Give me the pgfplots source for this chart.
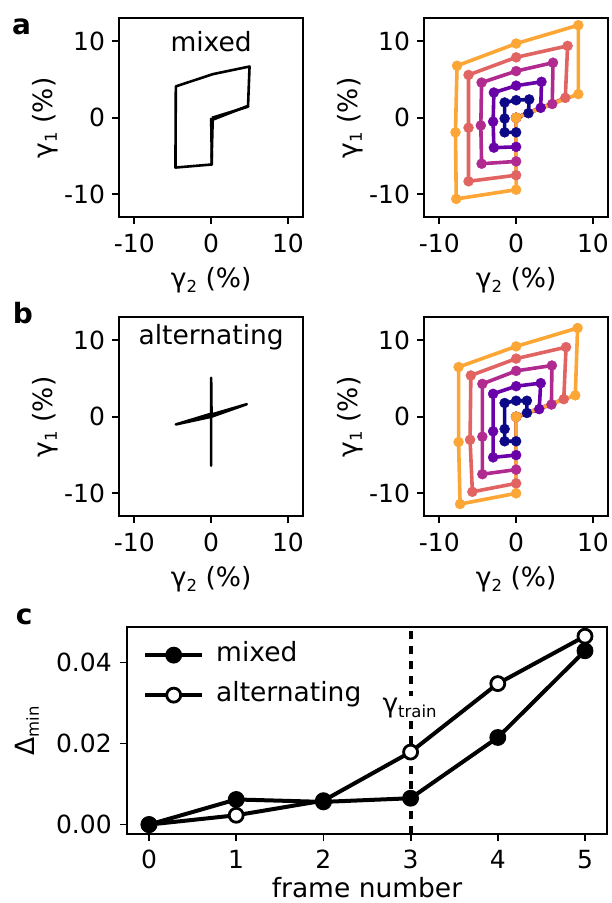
\documentclass[border=0pt]{standalone}
\usepackage{fontspec}
\setmainfont{DejaVu Sans}
\usepackage{pgfplots}
\usepackage{pgfplotstable}
\pgfplotsset{compat=1.18}
\definecolor{p0}{HTML}{0D0887}
\definecolor{p1}{HTML}{6A00A8}
\definecolor{p2}{HTML}{B12A90}
\definecolor{p3}{HTML}{E16462}
\definecolor{p4}{HTML}{FCA636}
\newcommand{\sub}[1]{\raisebox{-0.18em}{\fontsize{16.5}{16.5}\selectfont #1}}
\newcommand{\gl}{\fontsize{26.5}{31}\selectfont}

\pgfplotstableread{
xn yn xp yp xm ym xs ys xo yo
0 0 0 0 0 0 0 0 0 0
0 -1.9 0 -3.8 0 -5.7 0 -7.5 0 -9.4
-1.5 -1.9 -2.9 -3.9 -4.5 -6.0 -6.2 -8.3 -7.8 -10.6
-1.5 -0.1 -3.0 -0.5 -4.6 -1.0 -6.2 -1.3 -7.9 -1.9
-1.5 2.0 -2.9 3.3 -4.5 4.6 -6.2 5.6 -7.7 6.8
0 2.3 0 4.2 0 6.1 0 7.9 0 9.7
1.7 2.4 3.3 4.7 4.8 7.2 6.7 9.4 8.1 12.1
1.6 0.6 3.2 1.3 4.7 1.8 6.4 2.6 8.1 3.1
0 0 0 0 0 0 0 0 0 0
}\tabA

\pgfplotstableread{
xn yn xp yp xm ym xs ys xo yo
0 0 0 0 0 0 0 0 0 0
0 -3.2 0 -5.0 0 -6.9 0 -8.7 0 -10.0
-1.5 -3.2 -3.0 -5.3 -4.4 -7.5 -5.7 -9.8 -7.3 -11.4
-1.5 -1.6 -3.0 -1.9 -4.4 -2.6 -6.0 -3.0 -7.5 -3.3
-1.5 1.8 -3.0 3.0 -4.4 4.3 -5.9 5.4 -7.5 6.5
0 2.1 0 4.0 0 6.0 0 7.6 0 9.2
1.4 2.1 3.2 4.4 4.65 6.7 6.5 9.1 8.0 11.6
1.4 0.5 3.0 1.0 4.6 1.6 6.2 2.3 7.7 2.8
0 0 0 0 0 0 0 0 0 0
}\tabB

\pgfplotsset{
  base/.style={
    scale only axis, anchor=south west,
    tick align=outside, xtick pos=left, ytick pos=left,
    major tick length=7pt,
    every tick/.append style={black, line width=1.8pt},
    axis line style={line width=1.8pt},
    tick label style={font=\fontsize{25}{29}\selectfont},
    label style={font=\gl},
    scaled ticks=false,
  },
  loop/.style={base, width=184.3pt, height=199pt,
    xmin=-12, xmax=12, ymin=-13, ymax=13,
    xtick={-10,0,10}, xticklabels={-10,0,10},
    ytick={-10,0,10}, yticklabels={-10,0,10},
    xticklabel style={yshift=-6pt}, yticklabel style={xshift=-3.5pt},
    xlabel={γ\sub{2} (\%)}, ylabel={γ\sub{1} (\%)},
    xlabel style={at={([yshift=-70pt]axis description cs:0.5,0)}, anchor=base},
    ylabel style={at={([xshift=-67pt]axis description cs:0,0.5)}, anchor=base},
  },
  blk/.style={black, line width=2.6pt, line join=round, no markers},
  ln/.style={line width=3.6pt, line join=round, no markers, color=#1},
  mk/.style={only marks, mark=*, mark size=5pt, color=#1, mark options={draw=#1, fill=#1}},
}

\begin{document}
\begin{tikzpicture}
\path[use as bounding box] (0,0) rectangle (611pt,903pt);

% ---------- a left
\begin{axis}[loop, at={(119pt,685.7pt)}]
\addplot[blk] coordinates {(0,0) (0.1,-6.1) (-4.65,-6.5) (-4.6,4.1) (0.2,5.7) (5.0,6.7) (4.8,1.45) (0.1,0)};
\addplot[blk] coordinates {(4.9,1.6) (0.2,-0.25) (0.05,-6.0)};
\node[anchor=base, font=\gl] at (axis cs:0,8.67) {mixed};
\end{axis}

% ---------- a right
\begin{axis}[loop, at={(424pt,685.7pt)}]
\addplot[ln=p0] table[x=xn,y=yn] {\tabA};
\addplot[ln=p1] table[x=xp,y=yp] {\tabA};
\addplot[ln=p2] table[x=xm,y=ym] {\tabA};
\addplot[ln=p3] table[x=xs,y=ys] {\tabA};
\addplot[ln=p4] table[x=xo,y=yo] {\tabA};
\addplot[mk=p0] table[x=xn,y=yn] {\tabA};
\addplot[mk=p1] table[x=xp,y=yp] {\tabA};
\addplot[mk=p2] table[x=xm,y=ym] {\tabA};
\addplot[mk=p3] table[x=xs,y=ys] {\tabA};
\addplot[mk=p4] table[x=xo,y=yo] {\tabA};
\end{axis}

% ---------- b left
\begin{axis}[loop, at={(119pt,386.7pt)}]
\addplot[blk] coordinates {(0,0) (0,5.1) (0.05,0.3) (4.65,1.65) (0,0) (-4.6,-1.0) (0,0.4) (0,-6.4) (0,0)};
\node[anchor=base, font=\gl] at (axis cs:0,9.4) {alternating};
\end{axis}

% ---------- b right
\begin{axis}[loop, at={(424pt,386.7pt)}]
\addplot[ln=p0] table[x=xn,y=yn] {\tabB};
\addplot[ln=p1] table[x=xp,y=yp] {\tabB};
\addplot[ln=p2] table[x=xm,y=ym] {\tabB};
\addplot[ln=p3] table[x=xs,y=ys] {\tabB};
\addplot[ln=p4] table[x=xo,y=yo] {\tabB};
\addplot[mk=p0] table[x=xn,y=yn] {\tabB};
\addplot[mk=p1] table[x=xp,y=yp] {\tabB};
\addplot[mk=p2] table[x=xm,y=ym] {\tabB};
\addplot[mk=p3] table[x=xs,y=ys] {\tabB};
\addplot[mk=p4] table[x=xo,y=yo] {\tabB};
\end{axis}

% ---------- c
\begin{axis}[base, at={(127.2pt,68.7pt)}, width=479.6pt, height=207pt,
  xmin=-0.25, xmax=5.25, ymin=-0.0024, ymax=0.0487,
  xtick={0,1,2,3,4,5}, xticklabels={0,1,2,3,4,5},
  ytick={0,0.02,0.04}, yticklabels={0.00,0.02,0.04},
  xticklabel style={yshift=-5pt}, yticklabel style={xshift=-5pt},
  xlabel={frame number}, ylabel={Δ\sub{min}},
  xlabel style={at={([yshift=-63.5pt]axis description cs:0.5,0)}, anchor=base},
  ylabel style={at={([xshift=-93pt]axis description cs:0,0.5)}, anchor=base},
  legend style={draw=none, fill=none, font=\gl,
    at={([xshift=15.8pt,yshift=-14.4pt]axis description cs:0,1)}, anchor=north west,
    inner sep=0pt, row sep=13.5pt,
    nodes={inner sep=0pt, text height=20pt, text depth=6.5pt},
    /tikz/every odd column/.append style={column sep=12pt}},
  legend cell align=left, reverse legend,
  legend image code/.code={\draw[mark repeat=2,mark phase=2,#1] plot coordinates {(0pt,0pt) (28.5pt,0pt) (57pt,0pt)};},
]
\addplot[black, line width=4pt, mark=*, mark size=7pt, mark options={fill=white, line width=2.8pt}] coordinates {(0,0) (1,0.0023) (2,0.0059) (3,0.0179) (4,0.0348) (5,0.0465)};
\addlegendentry{alternating}
\addplot[black, line width=4pt, mark=*, mark size=7pt, mark options={fill=black, line width=2.8pt}] coordinates {(0,0) (1,0.0062) (2,0.0056) (3,0.0065) (4,0.0215) (5,0.0429)};
\addlegendentry{mixed}
\addplot[black, line width=4pt, dash pattern=on 8.3pt off 6.7pt, forget plot] coordinates {(3,-0.0024) (3,0.0487)}
  node[pos=0.61, anchor=center, fill=white, inner sep=2pt, font=\gl, solid, xshift=-1pt] {γ\sub{train}};
\end{axis}

% panel letters
\node[anchor=base west, inner sep=0pt, font=\fontsize{28}{30}\selectfont\bfseries] at (12pt,868pt) {a};
\node[anchor=base west, inner sep=0pt, font=\fontsize{28}{30}\selectfont\bfseries] at (12.7pt,579.7pt) {b};
\node[anchor=base west, inner sep=0pt, font=\fontsize{28}{30}\selectfont\bfseries] at (15.7pt,278pt) {c};
\end{tikzpicture}
\end{document}
